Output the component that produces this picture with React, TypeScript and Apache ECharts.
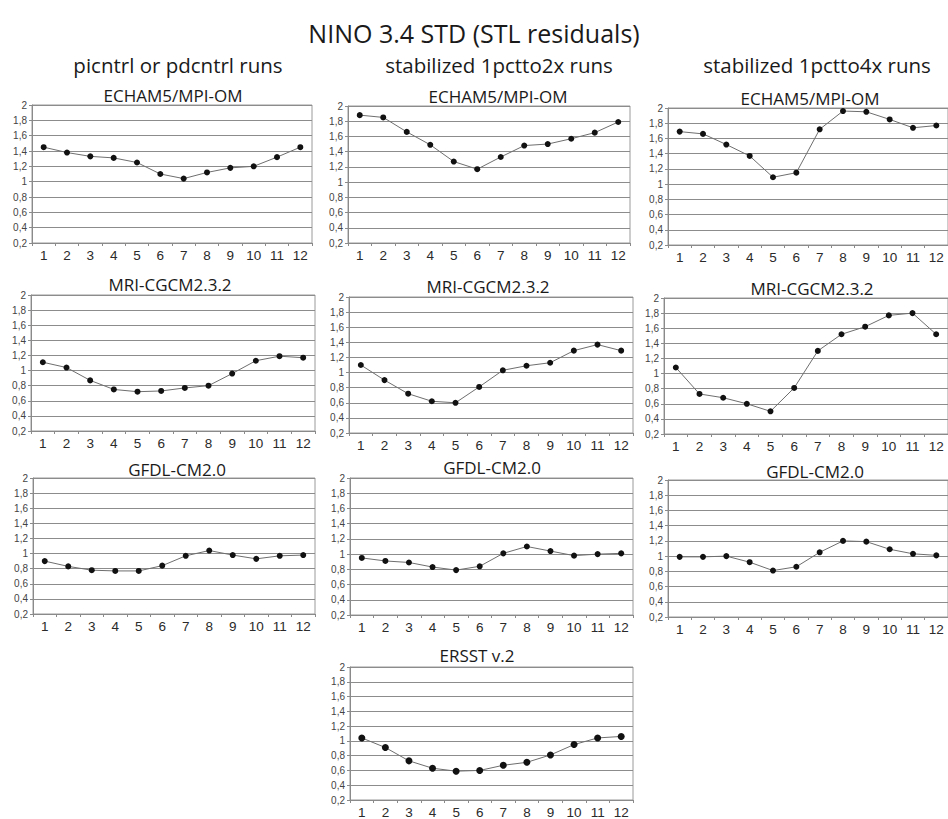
import React, { useEffect, useRef } from "react";
import * as echarts from "echarts";

const months = ["1", "2", "3", "4", "5", "6", "7", "8", "9", "10", "11", "12"];
const yTicks = [0.2, 0.4, 0.6, 0.8, 1, 1.2, 1.4, 1.6, 1.8, 2];

const mainTitle = "NINO 3.4 STD (STL residuals)";
const columnTitles = ["picntrl or pdcntrl runs", "stabilized 1pctto2x runs", "stabilized 1pctto4x runs"];

const echamCtrl = [1.45, 1.38, 1.33, 1.31, 1.25, 1.1, 1.04, 1.12, 1.18, 1.2, 1.32, 1.45];
const echam2x = [1.88, 1.85, 1.66, 1.49, 1.27, 1.17, 1.33, 1.48, 1.5, 1.57, 1.65, 1.79];
const echam4x = [1.69, 1.66, 1.52, 1.37, 1.09, 1.15, 1.72, 1.96, 1.95, 1.85, 1.74, 1.77];
const mriCtrl = [1.11, 1.04, 0.87, 0.75, 0.72, 0.73, 0.77, 0.8, 0.96, 1.13, 1.19, 1.17];
const mri2x = [1.1, 0.9, 0.72, 0.62, 0.6, 0.81, 1.03, 1.09, 1.13, 1.29, 1.37, 1.29];
const mri4x = [1.08, 0.73, 0.68, 0.6, 0.5, 0.81, 1.3, 1.52, 1.62, 1.77, 1.8, 1.52];
const gfdlCtrl = [0.9, 0.83, 0.78, 0.77, 0.77, 0.84, 0.97, 1.04, 0.98, 0.93, 0.97, 0.98];
const gfdl2x = [0.95, 0.91, 0.89, 0.83, 0.79, 0.84, 1.01, 1.1, 1.04, 0.98, 1.0, 1.01];
const gfdl4x = [0.99, 0.99, 1.0, 0.92, 0.81, 0.86, 1.05, 1.2, 1.19, 1.09, 1.03, 1.01];
const ersst = [1.04, 0.91, 0.73, 0.63, 0.59, 0.6, 0.67, 0.71, 0.81, 0.95, 1.04, 1.06];

const panels = [
  { name: "ECHAM5/MPI-OM", data: echamCtrl, left: 32, top: 105, width: 280, height: 138, tx: 173, ty: 95 },
  { name: "ECHAM5/MPI-OM", data: echam2x, left: 348, top: 106, width: 282, height: 137, tx: 498, ty: 96 },
  { name: "ECHAM5/MPI-OM", data: echam4x, left: 668, top: 108, width: 282, height: 137, tx: 810, ty: 98 },
  { name: "MRI-CGCM2.3.2", data: mriCtrl, left: 31, top: 295, width: 284, height: 136, tx: 170, ty: 284 },
  { name: "MRI-CGCM2.3.2", data: mri2x, left: 349, top: 297, width: 284, height: 136, tx: 488, ty: 286 },
  { name: "MRI-CGCM2.3.2", data: mri4x, left: 664, top: 298, width: 288, height: 136, tx: 812, ty: 288 },
  { name: "GFDL-CM2.0", data: gfdlCtrl, left: 33, top: 478, width: 282, height: 136, tx: 177, ty: 469 },
  { name: "GFDL-CM2.0", data: gfdl2x, left: 350, top: 478, width: 283, height: 137, tx: 492, ty: 467 },
  { name: "GFDL-CM2.0", data: gfdl4x, left: 668, top: 480, width: 282, height: 137, tx: 815, ty: 471 },
  { name: "ERSST v.2", data: ersst, left: 350, top: 667, width: 283, height: 137, tx: 477, ty: 655, big: true },
];

const titleFont = "'Open Sans', 'Noto Sans', sans-serif";
const axisFont = "'Liberation Sans', Arial, sans-serif";

function fmt(v: number) {
  return String(Number(v.toFixed(1))).replace(".", ",");
}

export default function App() {
  const ref = useRef<HTMLDivElement>(null);
  useEffect(() => {
    if (!ref.current) return;
    const chart = echarts.init(ref.current, undefined, { renderer: "svg" });
    const grids = panels.map((p) => ({
      left: p.left,
      top: p.top,
      width: p.width,
      height: p.height,
      show: true,
      borderColor: "#9a9a9a",
      borderWidth: 1,
      containLabel: false,
    }));
    const xAxes = panels.map((_, i) => ({
      type: "category",
      gridIndex: i,
      data: months,
      boundaryGap: true,
      axisLine: { show: true, lineStyle: { color: "#8a8a8a", width: 1 } },
      axisTick: { show: true, length: 3, inside: false, lineStyle: { color: "#8a8a8a" } },
      axisLabel: { fontSize: 13.5, color: "#2a2a2a", fontFamily: axisFont, margin: 5 },
      splitLine: { show: false },
    }));
    const yAxes = panels.map((_, i) => ({
      type: "value",
      gridIndex: i,
      min: yTicks[0],
      max: yTicks[yTicks.length - 1],
      interval: 0.2,
      axisLine: { show: true, lineStyle: { color: "#8a8a8a", width: 1 } },
      axisTick: { show: true, length: 3, lineStyle: { color: "#8a8a8a" } },
      axisLabel: { fontSize: 10, color: "#444", fontFamily: axisFont, margin: 5, formatter: (v: number) => fmt(v) },
      splitLine: { show: true, lineStyle: { color: "#8c8c8c", width: 1 } },
    }));
    const series = panels.map((p, i) => ({
      type: "line",
      xAxisIndex: i,
      yAxisIndex: i,
      data: p.data,
      symbol: "circle",
      symbolSize: p.big ? 7 : 6,
      showSymbol: true,
      lineStyle: { color: "#6e6e6e", width: 1 },
      itemStyle: { color: "#111" },
      z: 3,
    }));
    const headStyle = { fontSize: 20.5, fontFamily: titleFont, fill: "#1a1a1a", align: "center", verticalAlign: "middle" };
    const texts: any[] = [
      { type: "text", z: 100, x: 474, y: 33, style: { text: mainTitle, fontSize: 25, fontFamily: titleFont, fill: "#1a1a1a", align: "center", verticalAlign: "middle" } },
      { type: "text", z: 100, x: 178, y: 65, style: { text: columnTitles[0], ...headStyle } },
      { type: "text", z: 100, x: 499, y: 65, style: { text: columnTitles[1], ...headStyle } },
      { type: "text", z: 100, x: 817, y: 65, style: { text: columnTitles[2], ...headStyle } },
      ...panels.map((p) => ({
        type: "text",
        z: 100,
        x: p.tx,
        y: p.ty,
        style: { text: p.name, fontSize: 17, fontFamily: titleFont, fill: "#1a1a1a", align: "center", verticalAlign: "middle" },
      })),
    ];
    chart.setOption({
      animation: false,
      backgroundColor: "#fff",
      grid: grids,
      xAxis: xAxes,
      yAxis: yAxes,
      series,
      graphic: texts,
    });
    return () => chart.dispose();
  }, []);
  return <div ref={ref} style={{ position: "absolute", left: 0, top: 0, width: 948, height: 819 }} />;
}
